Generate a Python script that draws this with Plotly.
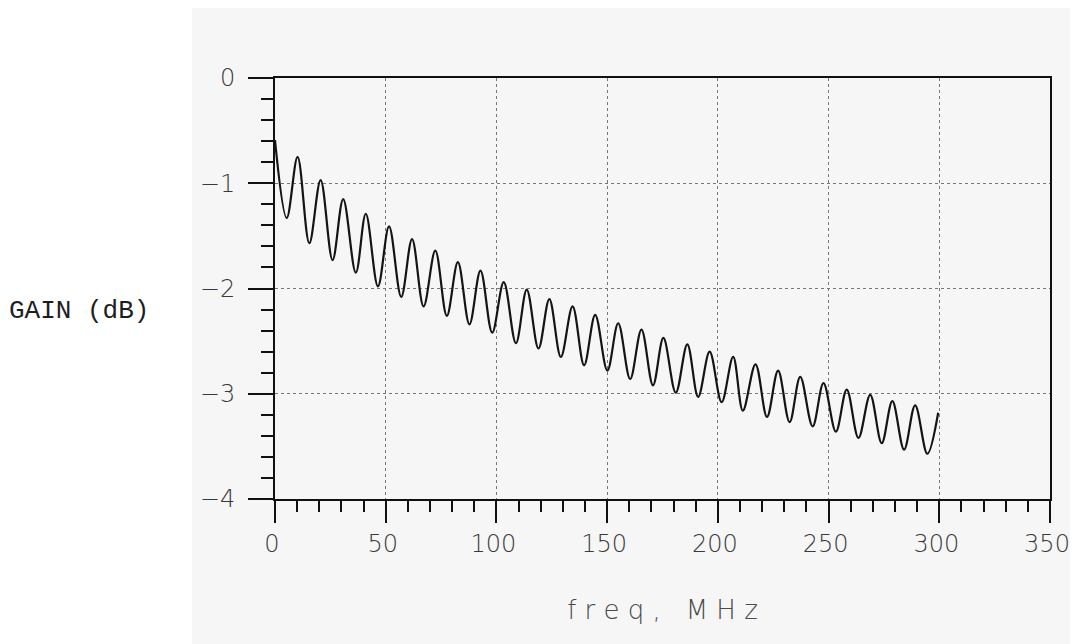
import plotly.graph_objects as go

# Gain ripple: alternating peaks and troughs (MHz, dB)
freq_mhz = [
    0, 5.3, 10.2, 15.5, 20.6, 26.0, 30.8, 36.5, 41.0, 46.5,
    51.5, 57.0, 61.9, 67.1, 72.4, 77.6, 82.6, 87.8, 92.8, 98.1,
    103.3, 108.8, 113.7, 119.0, 123.9, 129.1, 134.4, 139.6, 144.6, 150.1,
    155.0, 160.4, 165.5, 170.7, 175.4, 181.0, 186.2, 191.1, 196.3, 201.7,
    206.9, 211.3, 217.0, 222.2, 227.2, 232.4, 237.2, 242.8, 247.7, 253.3,
    258.2, 263.5, 268.8, 274.0, 278.8, 284.1, 289.1, 294.6, 299.5,
]
gain_db = [
    -0.59, -1.33, -0.75, -1.57, -0.97, -1.73, -1.15, -1.85, -1.29, -1.98,
    -1.41, -2.08, -1.53, -2.17, -1.64, -2.26, -1.75, -2.34, -1.83, -2.42,
    -1.94, -2.52, -2.01, -2.57, -2.10, -2.65, -2.17, -2.73, -2.25, -2.78,
    -2.33, -2.86, -2.39, -2.92, -2.47, -2.99, -2.53, -3.03, -2.60, -3.08,
    -2.65, -3.16, -2.72, -3.22, -2.78, -3.27, -2.84, -3.31, -2.90, -3.36,
    -2.96, -3.42, -3.01, -3.47, -3.07, -3.53, -3.11, -3.57, -3.18,
]

x_ticks = [0, 50, 100, 150, 200, 250, 300, 350]
y_ticks = [0, -1, -2, -3, -4]

tick_font = dict(family="DejaVu Sans", size=24, color="#3a3a3a", weight=200)

fig = go.Figure()
fig.add_trace(
    go.Scatter(
        x=freq_mhz,
        y=gain_db,
        mode="lines",
        line=dict(color="#141414", width=2.2, shape="spline", smoothing=1.0),
        showlegend=False,
    )
)

# scanned-paper tone on the right part of the page
fig.add_shape(
    type="rect",
    xref="paper", yref="paper",
    x0=-0.107, x1=1.1, y0=-0.4, y1=1.3,
    fillcolor="#f6f6f6", line_width=0, layer="below",
)

fig.add_annotation(
    text="GAIN (dB)",
    xref="paper", yref="paper",
    x=-0.346, y=0.447, xanchor="left", yanchor="middle",
    showarrow=False,
    font=dict(family="Liberation Mono", size=26, color="#1e1e1e"),
)

# page body adds an 8px offset, so the figure is sized/shifted to compensate
fig.update_layout(
    width=1062,
    height=636,
    margin=dict(l=267, r=20, t=70, b=145),
    paper_bgcolor="white",
    plot_bgcolor="#fbfbfb",
    showlegend=False,
    xaxis=dict(
        range=[0, 350],
        tickvals=x_ticks,
        automargin=False,
        ticks="outside", ticklen=22, tickwidth=2, tickcolor="#111",
        minor=dict(dtick=10, ticks="outside", ticklen=11, tickwidth=2,
                   tickcolor="#111", showgrid=False),
        showline=True, linecolor="#111", linewidth=2, mirror=True,
        showgrid=True, gridcolor="#777", griddash="dot", gridwidth=1,
        zeroline=False,
        tickfont=tick_font,
        ticklabelshift=-3,
        title=dict(text="f r e q ,&nbsp;&nbsp; M H z", standoff=44,
                   font=dict(family="DejaVu Sans", size=26, color="#4a4a4a",
                             weight=200)),
    ),
    yaxis=dict(
        range=[-4, 0],
        tickvals=y_ticks,
        automargin=False,
        ticks="outside", ticklen=25, tickwidth=2, tickcolor="#111",
        minor=dict(dtick=0.2, ticks="outside", ticklen=12, tickwidth=2,
                   tickcolor="#111", showgrid=False),
        showline=True, linecolor="#111", linewidth=2, mirror=True,
        showgrid=True, gridcolor="#777", griddash="dot", gridwidth=1,
        zeroline=False,
        tickfont=tick_font,
        ticklabelstandoff=8,
    ),
)

fig.write_html("out.html")
